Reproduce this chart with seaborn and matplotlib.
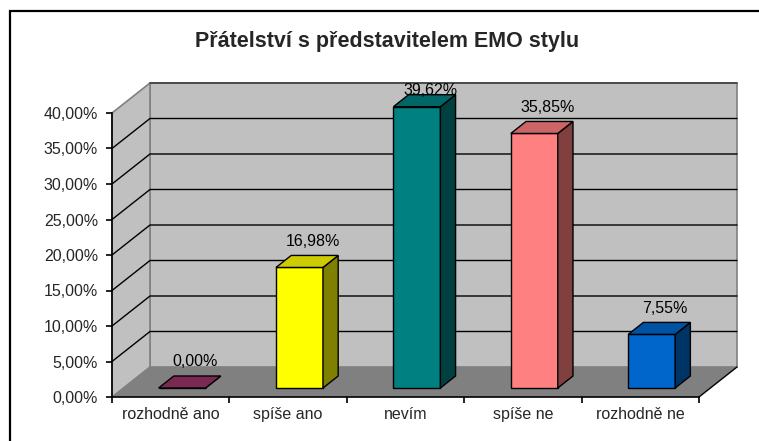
import matplotlib
matplotlib.use("Agg")
import matplotlib.pyplot as plt
import seaborn as sns
import pandas as pd
from matplotlib.patches import Polygon, Rectangle
from matplotlib.lines import Line2D
from matplotlib.ticker import FuncFormatter
from matplotlib.colors import to_rgb

# ---- data -------------------------------------------------------------
categories = ["rozhodně ano", "spíše ano", "nevím", "spíše ne", "rozhodně ne"]
values = [0.00, 16.98, 39.62, 35.85, 7.55]
value_labels = ["0,00%", "16,98%", "39,62%", "35,85%", "7,55%"]
bar_colors = ["#993366", "#FFFF00", "#008080", "#FF8080", "#0066CC"]
y_ticks = [0, 5, 10, 15, 20, 25, 30, 35, 40]
title = "Přátelství s představitelem EMO stylu"

# ---- style ------------------------------------------------------------
sns.set_style("white")
plt.rcParams["font.family"] = ["Liberation Sans", "DejaVu Sans"]
FS = 11.5

W, H = 759, 441
fig = plt.figure(figsize=(W / 100, H / 100), dpi=100)
fig.patch.set_facecolor("white")

# front plane of the 3-D box (pixels: x 112..699, y 113..397)
ax = fig.add_axes([112 / W, 44 / H, 587 / W, 284 / H])
ax.set_facecolor("none")

df = pd.DataFrame({"kategorie": categories, "podil": values})
sns.barplot(data=df, x="kategorie", y="podil", hue="kategorie",
            palette=bar_colors, legend=False, width=0.4, saturation=1,
            edgecolor="black", linewidth=1.0, ax=ax)
bars = list(ax.patches)

ax.set_xlim(-0.5, 4.5)
ax.set_ylim(0, 40)

# depth direction of the box, converted from pixels to data units
x_per_px = 5 / 587
y_per_px = 40 / 284
DX, DY = 38 * x_per_px, 30 * y_per_px


def P(x, y, d):
    """Project a point at depth d (0 = front, 1 = back wall)."""
    return (x + d * DX, y + d * DY)


def shade(c, f):
    r, g, b = to_rgb(c)
    return (r * f, g * f, b * f)


# floor, side wall and back wall
ax.add_patch(Polygon([P(-0.5, 0, 0), P(4.5, 0, 0), P(4.5, 0, 1), P(-0.5, 0, 1)],
                     closed=True, fc="#808080", ec="none", zorder=0.2, clip_on=False))
ax.add_patch(Polygon([P(-0.5, 0, 1), P(4.5, 0, 1), P(4.5, 40, 1), P(-0.5, 40, 1)],
                     closed=True, fc="#C0C0C0", ec="#808080", lw=1.2, zorder=0.1, clip_on=False))
ax.add_patch(Polygon([P(-0.5, 0, 0), P(-0.5, 0, 1), P(-0.5, 40, 1), P(-0.5, 40, 0)],
                     closed=True, fc="#C0C0C0", ec="#808080", lw=1.2, zorder=0.15, clip_on=False))

# gridlines running over the side wall and the back wall
for t in y_ticks[1:-1]:
    pts = [P(-0.5, t, 0), P(-0.5, t, 1), P(4.5, t, 1)]
    ax.add_line(Line2D([p[0] for p in pts], [p[1] for p in pts],
                       color="black", lw=1.0, zorder=0.3, clip_on=False))
top = [P(-0.5, 40, 1), P(4.5, 40, 1)]
ax.add_line(Line2D([p[0] for p in top], [p[1] for p in top],
                   color="#404040", lw=1.2, zorder=0.3, clip_on=False))
edge = [P(4.5, 0, 0), P(4.5, 0, 1)]
ax.add_line(Line2D([p[0] for p in edge], [p[1] for p in edge],
                   color="black", lw=1.0, zorder=0.3, clip_on=False))

# 3-D bars: the seaborn bar is the front face, sides and tops are added
D0, D1 = 0.3, 0.7
for bar, col, val, lab in zip(bars, bar_colors, values, value_labels):
    x0, w, h = bar.get_x(), bar.get_width(), bar.get_height()
    bar.set_x(x0 + D0 * DX)
    bar.set_y(D0 * DY)
    bar.set_zorder(3)
    bar.set_clip_on(False)
    side = [P(x0 + w, 0, D0), P(x0 + w, 0, D1), P(x0 + w, h, D1), P(x0 + w, h, D0)]
    topf = [P(x0, h, D0), P(x0 + w, h, D0), P(x0 + w, h, D1), P(x0, h, D1)]
    ax.add_patch(Polygon(side, closed=True, fc=shade(col, 0.5), ec="black",
                         lw=1.0, zorder=3, clip_on=False))
    ax.add_patch(Polygon(topf, closed=True, fc=shade(col, 0.8), ec="black",
                         lw=1.0, zorder=3, clip_on=False))
    # value label above the bar, kept inside the box
    cx = x0 + w / 2 + 0.65 * DX
    cy = min(h + D1 * DY + 14 * y_per_px, 40 + DY - 8 * y_per_px)
    ax.text(cx, cy, lab, ha="center", va="center", fontsize=FS,
            color="black", zorder=5, clip_on=False)

# axes: front-left edge and front floor edge
for s in ("top", "right"):
    ax.spines[s].set_visible(False)
for s in ("left", "bottom"):
    ax.spines[s].set_visible(True)
    ax.spines[s].set_color("black")
    ax.spines[s].set_linewidth(1.2)
    ax.spines[s].set_zorder(2.5)

ax.set_xticks(range(len(categories)))
ax.set_xticklabels(categories, fontsize=FS)
ax.set_xticks([i - 0.5 for i in range(len(categories) + 1)], minor=True)
ax.tick_params(axis="x", which="major", bottom=True, length=0, pad=7)
ax.tick_params(axis="x", which="minor", bottom=True, length=4, width=1.2,
               direction="out", color="black")
ax.set_yticks(y_ticks)
ax.yaxis.set_major_formatter(FuncFormatter(lambda v, _: f"{v:.2f}%".replace(".", ",")))
ax.tick_params(axis="y", left=True, length=4, width=1.2, direction="out",
               color="black", pad=6, labelsize=FS)
ax.set_xlabel("")
ax.set_ylabel("")

# title and chart border
fig.text(387 / W, 1 - 47 / H, title, ha="center", va="baseline",
         fontsize=15.5, fontweight="bold")
fig.add_artist(Rectangle((10 / W, -0.2), 2.0, (H - 11) / H + 0.2,
                         transform=fig.transFigure, fill=False,
                         ec="black", lw=1.6))

fig.savefig("out.png", dpi=100)
